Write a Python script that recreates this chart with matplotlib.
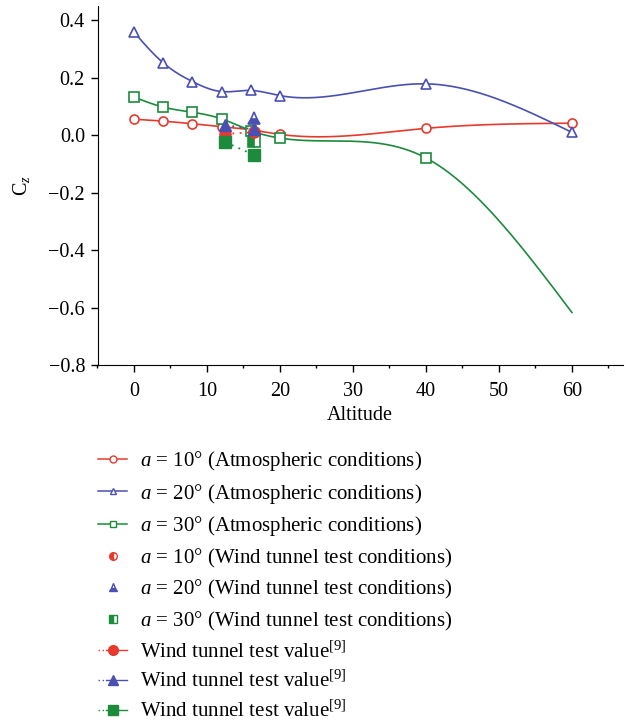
import numpy as np
import matplotlib
matplotlib.use("Agg")
import matplotlib.pyplot as plt
from matplotlib.lines import Line2D
from matplotlib.legend_handler import HandlerBase

plt.rcParams['font.family'] = ['Liberation Serif', 'DejaVu Serif']
plt.rcParams['mathtext.fontset'] = 'custom'
plt.rcParams['mathtext.rm'] = 'Liberation Serif'
plt.rcParams['mathtext.it'] = 'Liberation Serif:italic'

# ---- data ----
altitude = [0, 4, 8, 12, 16, 20, 40, 60]
cz_a10 = [0.056, 0.049, 0.040, 0.030, 0.019, 0.003, 0.024, 0.042]
cz_a20 = [0.359, 0.252, 0.187, 0.152, 0.156, 0.138, 0.179, 0.010]
cz_a30 = [0.133, 0.098, 0.080, 0.057, 0.016, -0.010, -0.079, -0.617]

wt_alt = [12.5, 16.4]
wtc_a10 = [0.005, 0.012]
wtc_a20 = [0.036, 0.061]
wtc_a30 = [-0.022, -0.019]
wtv_a10 = [0.005, 0.010]
wtv_a20 = [0.036, 0.020]
wtv_a30 = [-0.024, -0.068]

labels_atm = ["10", "20", "30"]

RED = '#e63a2e'
BLUE = '#4a50b2'
GREEN = '#1d8b3c'


def natural_cubic(x, y, xs):
    x = np.asarray(x, float); y = np.asarray(y, float)
    n = len(x); h = np.diff(x)
    A = np.zeros((n, n)); b = np.zeros(n)
    A[0, 0] = 1; A[-1, -1] = 1
    for i in range(1, n - 1):
        A[i, i - 1] = h[i - 1]; A[i, i] = 2 * (h[i - 1] + h[i]); A[i, i + 1] = h[i]
        b[i] = 3 * ((y[i + 1] - y[i]) / h[i] - (y[i] - y[i - 1]) / h[i - 1])
    c = np.linalg.solve(A, b)
    bc = (y[1:] - y[:-1]) / h - h * (2 * c[:-1] + c[1:]) / 3
    d = (c[1:] - c[:-1]) / (3 * h)
    idx = np.clip(np.searchsorted(x, xs) - 1, 0, n - 2)
    dx = xs - x[idx]
    return y[idx] + bc[idx] * dx + c[idx] * dx ** 2 + d[idx] * dx ** 3


class HalfDotHandler(HandlerBase):
    def create_artists(self, legend, orig_handle, xdescent, ydescent, width,
                       height, fontsize, trans):
        y = height / 2 - ydescent
        x0 = -xdescent
        x1 = x0 + width
        xs = x0 + width * 0.28
        xm = x0 + width * 0.5
        col = orig_handle.get_color()
        l1 = Line2D([x0, xs], [y, y], ls=(0, (1, 2)), lw=1.0, color=col)
        l2 = Line2D([xs, x1], [y, y], ls='-', lw=1.0, color=col)
        m = Line2D([xm], [y], ls='none', marker=orig_handle.get_marker(),
                   mfc=col, mec=col, ms=orig_handle.get_markersize())
        for a in (l1, l2, m):
            a.set_transform(trans)
        return [l1, l2, m]


fig = plt.figure(figsize=(6.29, 7.22), dpi=100)
ax = fig.add_axes([97.5 / 629, 1 - 365 / 722, (623 - 97.5) / 629, (365 - 6) / 722])

xs = np.linspace(altitude[0], altitude[-1], 600)
handles = []
handler_map = {}
for ys, col, mk, lab in [(cz_a10, RED, 'o', labels_atm[0]),
                         (cz_a20, BLUE, '^', labels_atm[1]),
                         (cz_a30, GREEN, 's', labels_atm[2])]:
    ax.plot(xs, natural_cubic(altitude, ys, xs), color=col, lw=1.2, zorder=2)
    mev = list(range(len(altitude))) if col != GREEN else list(range(len(altitude) - 1))
    ax.plot(np.array(altitude)[mev], np.array(ys)[mev], ls='none', marker=mk,
            mfc='white', mec=col, mew=1.2, ms=6.5, zorder=3)
    handles.append(Line2D([], [], color=col, lw=1.1, marker=mk, mfc='white', mec=col,
                          mew=1.0, ms=5, label=f"$a$ = {lab}° (Atmospheric conditions)"))

for ys, col, mk, fs, lab in [(wtc_a10, RED, 'o', 'left', labels_atm[0]),
                             (wtc_a20, BLUE, '^', 'bottom', labels_atm[1]),
                             (wtc_a30, GREEN, 's', 'left', labels_atm[2])]:
    ax.plot(wt_alt[1:], ys[1:], ls='none', marker=mk, color=col, fillstyle=fs,
            mfc=col, mfcalt='white', mec=col, mew=1.2, ms=8, zorder=4)
    handles.append(Line2D([], [], ls='none', marker=mk, color=col, fillstyle=fs,
                          mfc=col, mfcalt='white', mec=col, mew=1.0, ms=5.5,
                          label=f"$a$ = {lab}° (Wind tunnel test conditions)"))

for ys, col, mk in [(wtv_a10, RED, 'o'), (wtv_a20, BLUE, '^'), (wtv_a30, GREEN, 's')]:
    ax.plot(wt_alt, ys, ls=(0, (1, 3)), lw=1.3, color=col, marker=mk, mfc=col,
            mec=col, ms=8, zorder=5)
    h = Line2D([], [], ls=(0, (1, 2)), lw=1.2, color=col, marker=mk,
               mfc=col, mec=col, ms=7, label="Wind tunnel test value$^{[9]}$")
    handles.append(h)
    handler_map[h] = HalfDotHandler()

ax.set_xlim(-5, 67)
ax.set_ylim(-0.8, 0.45)
ax.set_xticks([0, 10, 20, 30, 40, 50, 60])
ax.set_xticks(np.arange(-5, 67, 5), minor=True)
ax.set_yticks([-0.8, -0.6, -0.4, -0.2, 0.0, 0.2, 0.4])
ax.set_yticklabels(['−0.8', '−0.6', '−0.4', '−0.2', '0.0', '0.2', '0.4'])
ax.spines['top'].set_visible(False)
ax.spines['right'].set_visible(False)
ax.tick_params(axis='both', which='major', direction='out', length=5, width=1,
               labelsize=14.5, pad=4)
ax.tick_params(axis='x', which='major', pad=7)
ax.tick_params(axis='x', which='minor', direction='out', length=2.5, width=1)
ax.set_xlabel('Altitude', fontsize=14.5, labelpad=4)
ax.set_ylabel('C$_z$', fontsize=14.5, labelpad=12)

leg = fig.legend(handles=handles, handler_map=handler_map, loc='upper left',
                 bbox_to_anchor=(98 / 629, 1 - 449 / 722), frameon=False,
                 fontsize=15, handlelength=1.4, handletextpad=0.62,
                 labelspacing=0.41, borderaxespad=0, borderpad=0)

fig.savefig('out.png', dpi=100)
